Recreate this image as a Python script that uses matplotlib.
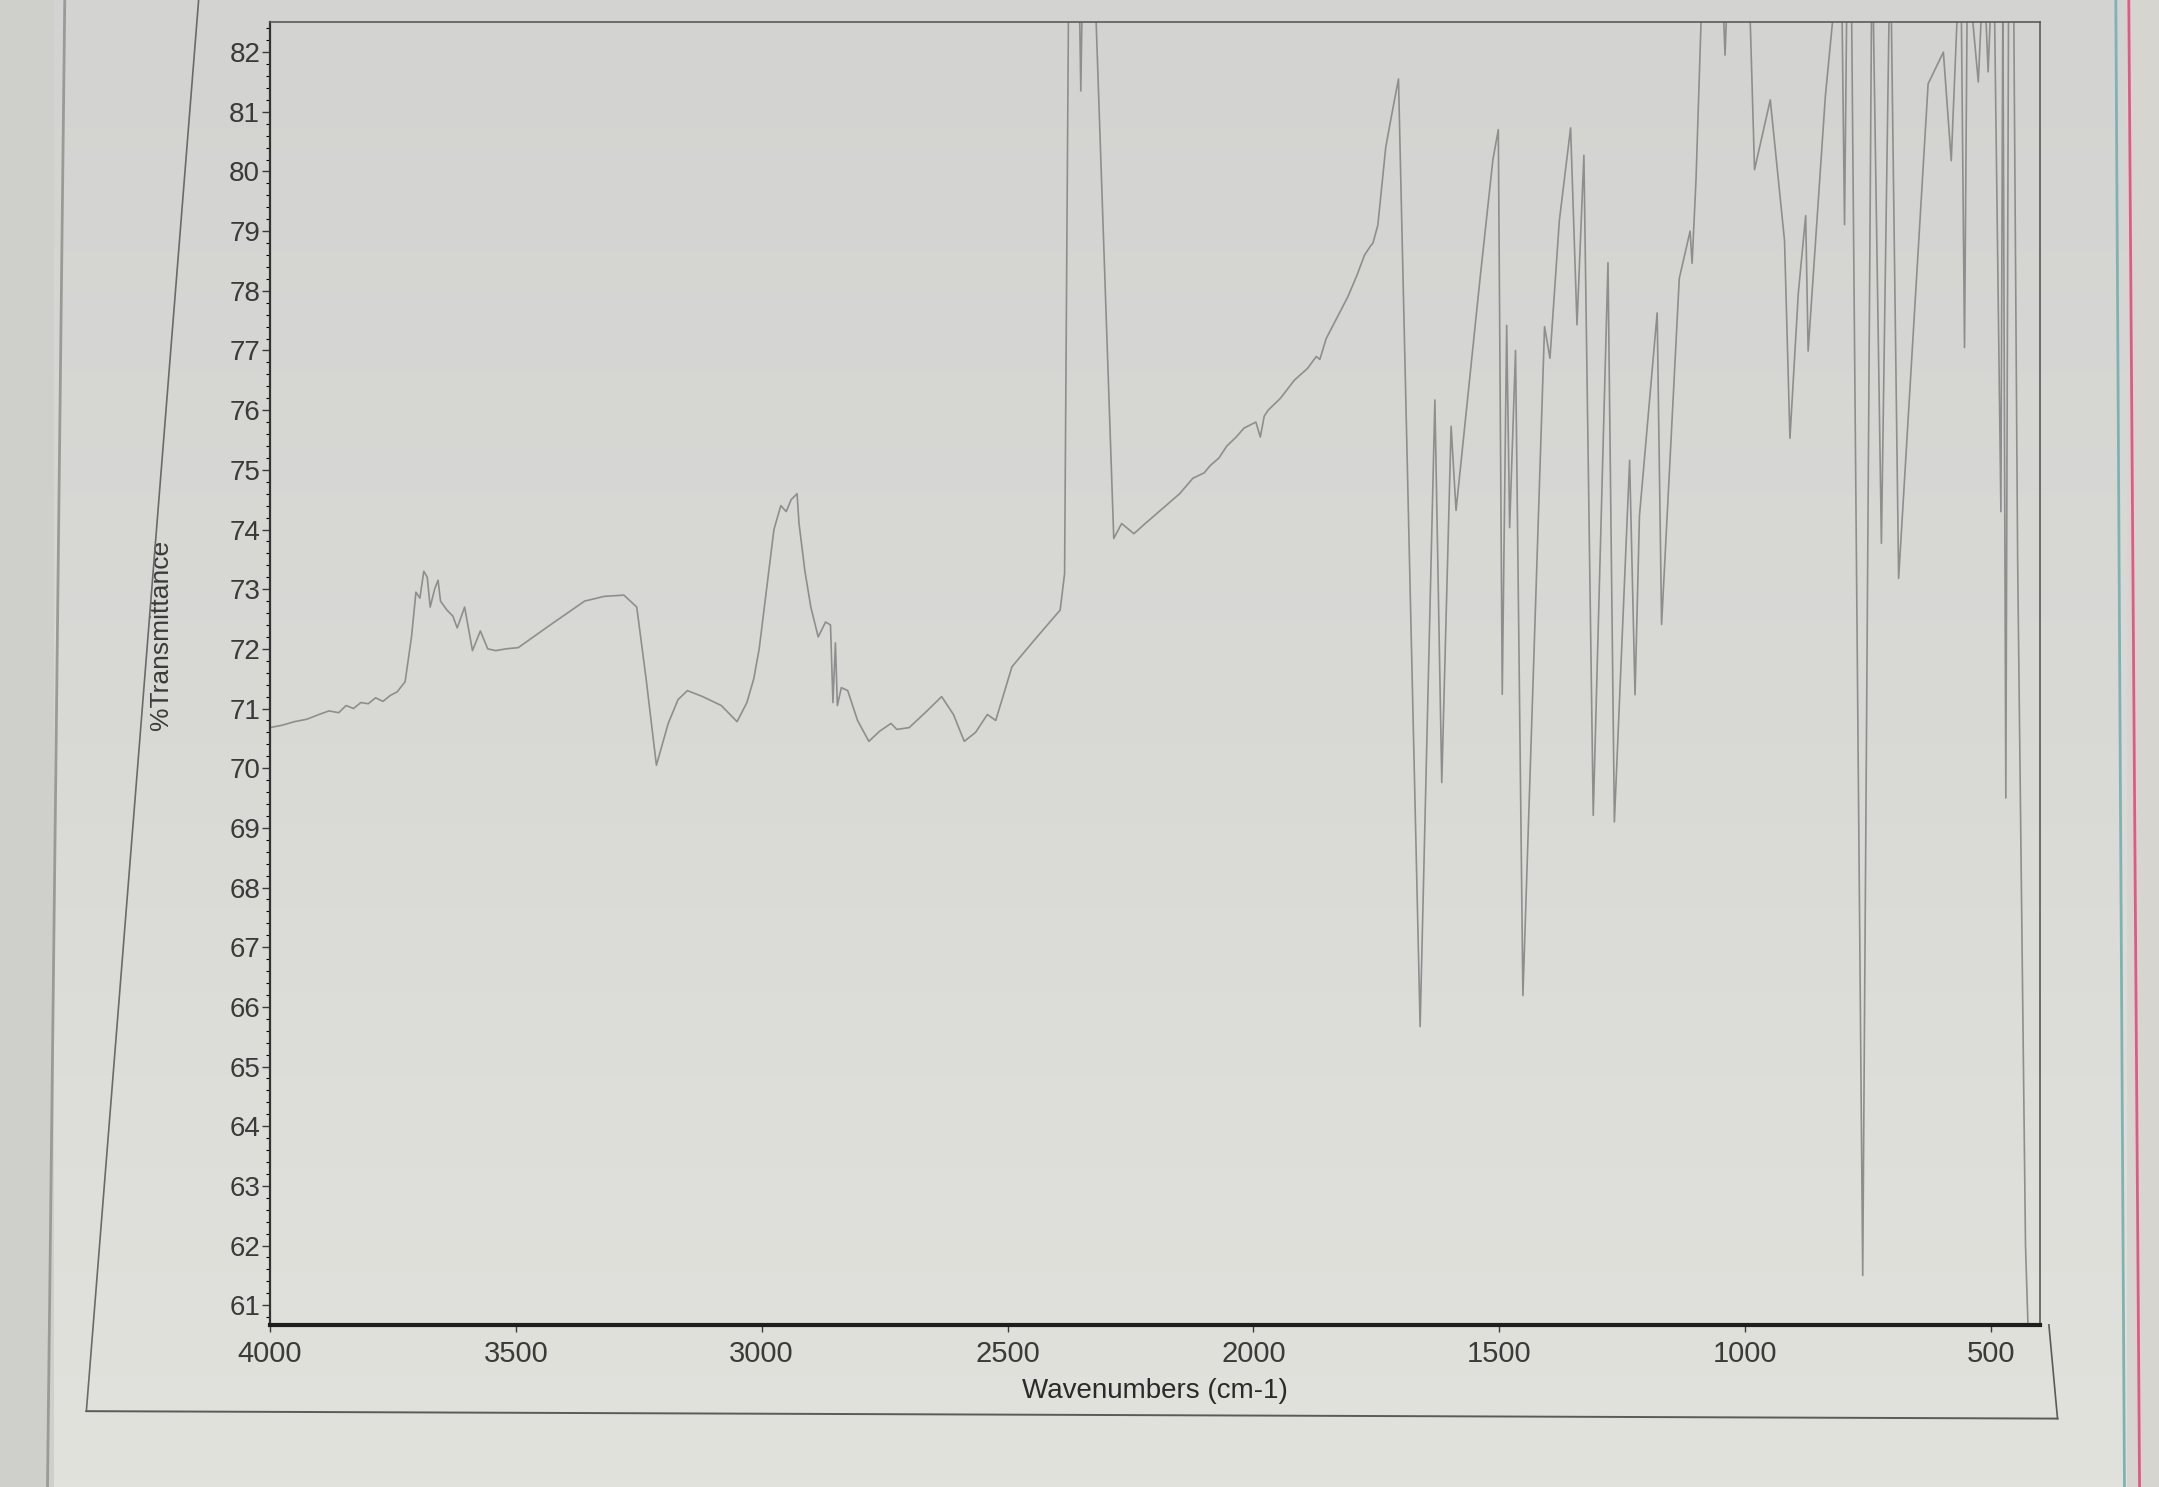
import numpy as np
import matplotlib
matplotlib.use("Agg")
import matplotlib.pyplot as plt
from matplotlib.lines import Line2D
from matplotlib.patches import Rectangle
from matplotlib.ticker import MultipleLocator

plt.rcParams['font.family'] = ['Liberation Sans', 'DejaVu Sans']

# IR spectrum (values above ~82.5 run off the top of the chart)
wavenumber = [
    4000, 3975, 3950, 3925, 3900, 3880, 3860, 3845, 3830, 3815, 3800, 3785, 3770, 3755,
    3741, 3725, 3712, 3703, 3695, 3687, 3680, 3674, 3665, 3658, 3653, 3640, 3628, 3619,
    3604, 3588, 3572, 3557, 3541, 3520, 3495, 3430, 3360, 3320, 3280, 3254, 3235, 3214,
    3190, 3170, 3151, 3120, 3082, 3050, 3030, 3016, 3005, 2990, 2975, 2961, 2950, 2940,
    2928, 2924, 2912, 2900, 2885, 2870, 2860, 2855, 2850, 2846, 2838, 2825, 2805, 2782,
    2760, 2737, 2725, 2700, 2665, 2634, 2610, 2588, 2565, 2541, 2524, 2491, 2440, 2393,
    2384, 2375, 2356, 2351, 2346, 2326, 2284, 2268, 2243, 2220, 2185, 2150, 2123, 2100,
    2088, 2070, 2054, 2035, 2019, 1995, 1986, 1978, 1970, 1945, 1917, 1890, 1872, 1865,
    1852, 1830, 1808, 1790, 1774, 1762, 1757, 1747, 1731, 1720, 1705, 1661, 1631, 1617,
    1598, 1588, 1540, 1513, 1502, 1494, 1485, 1479, 1467, 1452, 1408, 1397, 1378, 1355,
    1342, 1328, 1309, 1279, 1266, 1235, 1224, 1215, 1179, 1170, 1134, 1112, 1108, 1100,
    1084, 1050, 1041, 1032, 995, 981, 949, 920, 909, 892, 877, 872, 837, 805,
    798, 792, 785, 761, 742, 723, 705, 688, 628, 597, 581, 562, 554, 548,
    526, 515, 506, 495, 480, 476, 470, 464, 455, 446, 430, 415, 400,
]
transmittance = [
    70.68, 70.72, 70.78, 70.82, 70.90, 70.96, 70.93, 71.05, 71.00, 71.10, 71.08, 71.18, 71.12, 71.22,
    71.28, 71.45, 72.20, 72.95, 72.85, 73.30, 73.20, 72.70, 73.00, 73.15, 72.80, 72.65, 72.55, 72.35,
    72.70, 71.97, 72.30, 72.00, 71.97, 72.00, 72.02, 72.40, 72.80, 72.88, 72.90, 72.70, 71.50, 70.05,
    70.75, 71.15, 71.30, 71.20, 71.05, 70.78, 71.10, 71.50, 72.00, 73.00, 74.00, 74.40, 74.30, 74.50,
    74.60, 74.10, 73.30, 72.70, 72.20, 72.45, 72.40, 71.10, 72.10, 71.05, 71.35, 71.30, 70.80, 70.45,
    70.62, 70.75, 70.65, 70.68, 70.95, 71.20, 70.90, 70.45, 70.60, 70.90, 70.80, 71.70, 72.20, 72.65,
    73.26, 84.00, 84.00, 81.35, 84.00, 84.00, 73.85, 74.10, 73.93, 74.10, 74.35, 74.60, 74.86, 74.95,
    75.07, 75.20, 75.40, 75.55, 75.70, 75.80, 75.55, 75.90, 76.00, 76.20, 76.50, 76.70, 76.90, 76.85,
    77.20, 77.55, 77.90, 78.25, 78.60, 78.75, 78.80, 79.10, 80.40, 80.90, 81.55, 65.67, 76.17, 69.76,
    75.73, 74.32, 78.14, 80.20, 80.70, 71.24, 77.42, 74.03, 77.00, 66.19, 77.40, 76.87, 79.17, 80.73,
    77.43, 80.27, 69.21, 78.47, 69.10, 75.16, 71.23, 74.23, 77.63, 72.41, 78.21, 79.00, 78.46, 79.86,
    84.00, 84.00, 81.95, 84.00, 84.00, 80.03, 81.20, 78.84, 75.53, 77.96, 79.26, 76.99, 81.26, 84.00,
    79.11, 84.00, 84.00, 61.50, 84.00, 73.77, 84.00, 73.18, 81.47, 82.00, 80.18, 84.00, 77.05, 83.50,
    81.50, 83.50, 81.67, 84.00, 74.30, 83.00, 69.50, 84.00, 84.00, 73.50, 62.00, 58.00, 58.00,
]

x_ticks = [4000, 3500, 3000, 2500, 2000, 1500, 1000, 500]
y_ticks = list(range(61, 83))

paper = '#d9dad6'
fig = plt.figure(figsize=(21.59, 14.87), dpi=100, facecolor=paper)

# photographed paper: slightly darker at the top, lighter at the bottom
bg = fig.add_axes([0, 0, 1, 1], zorder=-10)
grad = np.linspace(0, 1, 256).reshape(-1, 1)
bg.imshow(grad, aspect='auto', cmap=matplotlib.colors.LinearSegmentedColormap.from_list(
    'paper', ['#d3d4d1', '#d9dad6', '#e2e2dd']), extent=[0, 1, 0, 1], origin='upper')
bg.set_xlim(0, 1)
bg.set_ylim(0, 1)
bg.axis('off')
bg.add_patch(Rectangle((0, 0), 0.025, 1, color='#cfcfcb', lw=0))
bg.add_patch(Rectangle((0.985, 0), 0.015, 1, color='#d6d5d0', lw=0))

ax = fig.add_axes([0.125, 0.109, 0.82, 0.876])
ax.set_facecolor('none')
ax.plot(wavenumber, transmittance, color='#8e8e8e', lw=1.2)

ax.set_xlim(4000, 400)
ax.set_ylim(60.67, 82.5)
ax.set_xticks(x_ticks)
ax.set_yticks(y_ticks)
ax.yaxis.set_minor_locator(MultipleLocator(0.2))
ax.tick_params(axis='both', labelsize=20, colors='#3a3a3a', direction='out')
ax.tick_params(axis='y', which='major', length=6, width=1.0, pad=1)
ax.tick_params(axis='y', which='minor', length=3, width=0.8)
ax.tick_params(axis='x', which='major', length=5, width=1.0, pad=6, labelsize=21)

for side in ['top', 'right']:
    ax.spines[side].set_color('#5a5a5a')
    ax.spines[side].set_linewidth(1.2)
ax.spines['left'].set_color('#333333')
ax.spines['left'].set_linewidth(1.6)
ax.spines['bottom'].set_color('#1e1e1e')
ax.spines['bottom'].set_linewidth(3.0)

ax.set_ylabel('%Transmittance', fontsize=19, color='#3a3a3a')
ax.yaxis.set_label_coords(-0.055, 0.53)
ax.set_xlabel('Wavenumbers (cm-1)', fontsize=20, color='#2a2a2a')
ax.xaxis.set_label_coords(0.5, -0.041)

# printout border and page edges
for xs, ys, c, w in [
    ([0.040, 0.092], [0.051, 1.0], '#6a6a6a', 1.2),
    ([0.040, 0.953], [0.051, 0.046], '#5a5a5a', 1.4),
    ([0.953, 0.949], [0.046, 0.109], '#5a5a5a', 1.2),
    ([0.022, 0.030], [0.0, 1.0], '#9a9a96', 2.0),
    ([0.980, 0.984], [1.0, 0.0], '#7fb2b0', 2.0),
    ([0.986, 0.991], [1.0, 0.0], '#e05a86', 2.0),
]:
    fig.add_artist(Line2D(xs, ys, color=c, lw=w, transform=fig.transFigure))

plt.savefig('out.png', dpi=100, facecolor=fig.get_facecolor())
